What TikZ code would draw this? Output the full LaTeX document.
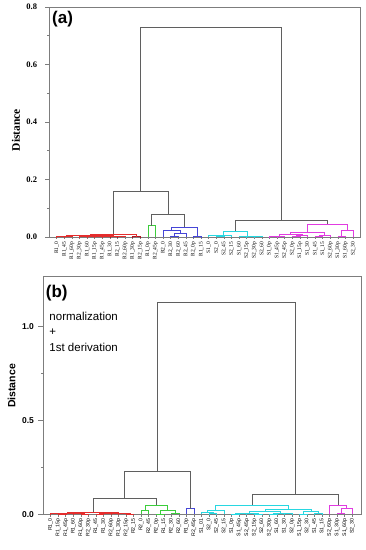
\documentclass[tikz,border=0pt]{standalone}
\usepackage{fontspec}
\setmainfont{Liberation Serif}
\setsansfont{Liberation Sans}
\usetikzlibrary{calc}
\definecolor{cred}{RGB}{228,45,45}
\definecolor{cdred}{RGB}{175,20,35}
\definecolor{cgreen}{RGB}{60,205,60}
\definecolor{cblue}{RGB}{70,70,215}
\definecolor{ccyan}{RGB}{40,215,225}
\definecolor{cmag}{RGB}{225,60,225}
\definecolor{cgray}{RGB}{95,95,95}
\definecolor{cframe}{RGB}{125,125,125}
\tikzset{
  lnk/.style={line width=0.55pt},
  lred/.style={lnk, draw=cred},
  ldred/.style={lnk, draw=cdred},
  lgreen/.style={lnk, draw=cgreen},
  lblue/.style={lnk, draw=cblue},
  lcyan/.style={lnk, draw=ccyan},
  lmag/.style={lnk, draw=cmag},
  lgray/.style={lnk, draw=cgray},
  frm/.style={draw=cframe, line width=0.6pt},
  leafa/.style={font=\fontsize{5.5}{6}\selectfont, rotate=90, anchor=east, inner sep=0pt},
  leafb/.style={font=\sffamily\fontsize{5.2}{6}\selectfont, rotate=90, anchor=east, inner sep=0pt},
  ticka/.style={font=\bfseries\fontsize{8.5}{9}\selectfont, anchor=east, inner sep=0pt},
  tickb/.style={font=\sffamily\bfseries\fontsize{8.5}{9}\selectfont, anchor=east, inner sep=0pt},
  panel/.style={font=\sffamily\bfseries\fontsize{17}{19}\selectfont, anchor=west, inner sep=0pt}
}
% one link of the tree: name, left child, right child, height, style
\newcommand{\dlink}[5]{%
  \coordinate (lvl) at (0,#4);
  \draw[#5] (#2) -- (#2 |- lvl) -- (#3 |- lvl) -- (#3);
  \coordinate (#1) at ($(#2 |- lvl)!.5!(#3 |- lvl)$);
}
\begin{document}
\begin{tikzpicture}
\useasboundingbox (0,0) rectangle (366pt,550pt);
\fill[white] (0,0) rectangle (366pt,550pt);

% panel (a)
\begin{scope}[shift={(49.1pt,313pt)}, x=7.6pt, y=287.5pt]
  % frame and distance axis
  \draw[frm] (0,0) rectangle (40.9,0.8);
  \foreach \v/\tl [count=\k] in {0/0.0,0.2/0.2,0.4/0.4,0.6/0.6,0.8/0.8}{
    \draw[frm] (0,\v) -- ++(-4pt,0);
    \node[ticka] (ta\k) at ([xshift=-11.8pt]0,\v) {\tl};
  }
  \foreach \v in {0.1,0.3,0.5,0.7} \draw[frm] (0,\v) -- ++(-2pt,0);
  \node[font=\bfseries\fontsize{11.5}{12}\selectfont, rotate=90] (dista) at ([xshift=-33.1pt]0,0.372) {Distance};
  \node[panel] (pa) at (0.38,0.758) {(a)};
  % leaves
  \foreach \lab [count=\i] in {R1\_0,R1\_45,R1\_60p,R2\_30p,R1\_60,R1\_15p,R1\_45p,R1\_30,R2\_15,R2\_60p,R1\_30p,R2\_15p,R1\_0p,R2\_45p,R2\_0,R2\_30,R2\_60,R2\_45,R2\_0p,R1\_15,S1\_0,S2\_0,S2\_45,S2\_15,S1\_60,S2\_15p,S2\_30p,S2\_60,S1\_0p,S1\_45p,S2\_45p,S2\_0p,S1\_15p,S1\_30,S1\_45,S1\_15,S2\_60p,S1\_30p,S1\_60p,S2\_30}{
    \coordinate (a\i) at (\i,0);
    \draw[frm] (a\i) -- ++(0,-2.5pt);
    \node[leafa] (la\i) at ([yshift=-4.7pt]a\i) {\lab};
  }
  % red group
  \dlink{Ar1}{a1}{a2}{.001}{lred}
  \dlink{Ar2}{Ar1}{a3}{.002}{lred}
  \dlink{Ar3}{a4}{a5}{.001}{lred}
  \dlink{Ar4}{a6}{a7}{.001}{lred}
  \dlink{Ar5}{Ar3}{Ar4}{.002}{lred}
  \dlink{Ar6}{a8}{a9}{.001}{ldred}
  \dlink{Ar7}{Ar5}{Ar6}{.003}{lred}
  \dlink{Ar8}{Ar7}{a10}{.004}{lred}
  \dlink{Ar9}{Ar2}{Ar8}{.0045}{lred}
  \dlink{Ar10}{a11}{a12}{.001}{ldred}
  \dlink{Ar11}{Ar9}{Ar10}{.009}{lred}
  % green and blue groups
  \dlink{Ag1}{a13}{a14}{.04}{lgreen}
  \dlink{Ab1}{a16}{a17}{.003}{lblue}
  \dlink{Ab2}{Ab1}{a18}{.013}{lblue}
  \dlink{Ab3}{a15}{Ab2}{.024}{lblue}
  \dlink{Ab4}{a19}{a20}{.001}{lblue}
  \dlink{Ab5}{Ab3}{Ab4}{.035}{lblue}
  \dlink{Ak1}{Ag1}{Ab5}{.08}{lgray}
  \dlink{Ak2}{Ar11}{Ak1}{.16}{lgray}
  % cyan group
  \dlink{Ac1}{a22}{a23}{.002}{lcyan}
  \dlink{Ac2}{a21}{Ac1}{.005}{lcyan}
  \dlink{Ac3}{Ac2}{a24}{.007}{lcyan}
  \dlink{Ac4}{a26}{a27}{.001}{lcyan}
  \dlink{Ac5}{Ac4}{a28}{.002}{lcyan}
  \dlink{Ac6}{a25}{Ac5}{.003}{lcyan}
  \dlink{Ac7}{Ac3}{Ac6}{.02}{lcyan}
  % magenta group
  \dlink{Am1}{a29}{a30}{.001}{lmag}
  \dlink{Am2}{Am1}{a31}{.003}{lmag}
  \dlink{Am3}{a32}{a33}{.002}{lmag}
  \dlink{Am4}{Am3}{a34}{.006}{lmag}
  \dlink{Am5}{Am2}{Am4}{.009}{lmag}
  \dlink{Am6}{a35}{a36}{.002}{lmag}
  \dlink{Am7}{Am6}{a37}{.005}{lmag}
  \dlink{Am8}{Am5}{Am7}{.018}{lmag}
  \dlink{Am9}{a38}{a39}{.003}{lmag}
  \dlink{Am10}{Am9}{a40}{.024}{lmag}
  \dlink{Am11}{Am8}{Am10}{.045}{lmag}
  \dlink{Ak3}{Ac7}{Am11}{.057}{lgray}
  % root
  \dlink{Ak4}{Ak2}{Ak3}{.73}{lgray}
\end{scope}

% panel (b)
\begin{scope}[shift={(43.16pt,35.7pt)}, x=7.54pt, y=187.7pt]
  % frame and distance axis
  \draw[frm] (0,0) rectangle (42.15,1.266);
  \foreach \v/\tl [count=\k] in {0/0.0,0.5/0.5,1/1.0}{
    \draw[frm] (0,\v) -- ++(-5.5pt,0);
    \node[tickb] (tb\k) at ([xshift=-9pt]0,\v) {\tl};
  }
  \foreach \v in {0.25,0.75} \draw[frm] (0,\v) -- ++(-2.5pt,0);
  \node[font=\sffamily\bfseries\fontsize{10.5}{11}\selectfont, rotate=90, anchor=west, inner sep=0pt] (distb) at ([xshift=-31.5pt]0,0.566) {Distance};
  \node[panel] (pb) at (0.34,1.179) {(b)};
  \node[font=\sffamily\fontsize{11.5}{15.5}\selectfont, align=left, anchor=north west, inner sep=0pt] (prep) at (0.81,1.079) {normalization\\+\\1st derivation};
  % leaves
  \foreach \lab [count=\i] in {R1\_0,R1\_15p,R1\_45p,R1\_60,R1\_60p,R2\_30p,R1\_45,R1\_30,R2\_60p,R1\_30p,R2\_15p,R2\_15,R2\_0,R2\_45,R2\_0p,R1\_15,R2\_30,R2\_60,R1\_0p,R2\_45p,S1\_01,S2\_0,S2\_45,S2\_15,S1\_0p,S1\_45p,S2\_45p,S2\_15p,S2\_60,S2\_30p,S1\_60,S1\_30,S2\_0p,S1\_15p,S2\_30,S1\_45,S1\_15,S2\_60p,S1\_30p,S1\_60p,S2\_30}{
    \coordinate (b\i) at (\i,0);
    \draw[frm] (b\i) -- ++(0,-2.5pt);
    \node[leafb] (lb\i) at ([yshift=-4pt]b\i) {\lab};
  }
  % red group
  \dlink{Br1}{b2}{b3}{.001}{lred}
  \dlink{Br2}{b1}{Br1}{.003}{lred}
  \dlink{Br3}{b5}{b6}{.002}{lred}
  \dlink{Br4}{b4}{Br3}{.004}{lred}
  \dlink{Br5}{Br2}{Br4}{.007}{lred}
  \dlink{Br6}{b7}{b8}{.002}{lred}
  \dlink{Br7}{b9}{b10}{.003}{lred}
  \dlink{Br8}{Br6}{Br7}{.005}{lred}
  \dlink{Br9}{b11}{b12}{.001}{lred}
  \dlink{Br10}{Br8}{Br9}{.006}{lred}
  \dlink{Br11}{Br5}{Br10}{.01}{lred}
  % green and blue groups
  \dlink{Bg1}{b13}{b14}{.023}{lgreen}
  \dlink{Bg2}{b15}{b16}{.001}{lgreen}
  \dlink{Bg3}{b17}{b18}{.007}{lgreen}
  \dlink{Bg4}{Bg2}{Bg3}{.02}{lgreen}
  \dlink{Bg5}{Bg1}{Bg4}{.048}{lgreen}
  \dlink{Bb1}{b19}{b20}{.03}{lblue}
  \dlink{Bk1}{Br11}{Bg5}{.083}{lgray}
  \dlink{Bk2}{Bk1}{Bb1}{.229}{lgray}
  % cyan group
  \dlink{Bc1}{b22}{b23}{.003}{lcyan}
  \dlink{Bc2}{b21}{Bc1}{.01}{lcyan}
  \dlink{Bc3}{Bc2}{b24}{.023}{lcyan}
  \dlink{Bc4}{b25}{b26}{.001}{lcyan}
  \dlink{Bc5}{Bc4}{b27}{.003}{lcyan}
  \dlink{Bc6}{b28}{b29}{.002}{lcyan}
  \dlink{Bc7}{Bc5}{Bc6}{.006}{lcyan}
  \dlink{Bc8}{b30}{b31}{.002}{lcyan}
  \dlink{Bc9}{b32}{b33}{.003}{lcyan}
  \dlink{Bc10}{Bc8}{Bc9}{.008}{lcyan}
  \dlink{Bc11}{Bc7}{Bc10}{.018}{lcyan}
  \dlink{Bc12}{b34}{b35}{.002}{lcyan}
  \dlink{Bc13}{b36}{b37}{.004}{lcyan}
  \dlink{Bc14}{Bc12}{Bc13}{.015}{lcyan}
  \dlink{Bc15}{Bc11}{Bc14}{.028}{lcyan}
  \dlink{Bc16}{Bc3}{Bc15}{.05}{lcyan}
  % magenta group
  \dlink{Bm1}{b39}{b40}{.005}{lmag}
  \dlink{Bm2}{Bm1}{b41}{.032}{lmag}
  \dlink{Bm3}{b38}{Bm2}{.048}{lmag}
  \dlink{Bk3}{Bc16}{Bm3}{.107}{lgray}
  % root
  \dlink{Bk4}{Bk2}{Bk3}{1.13}{lgray}
\end{scope}
\end{tikzpicture}
\end{document}
